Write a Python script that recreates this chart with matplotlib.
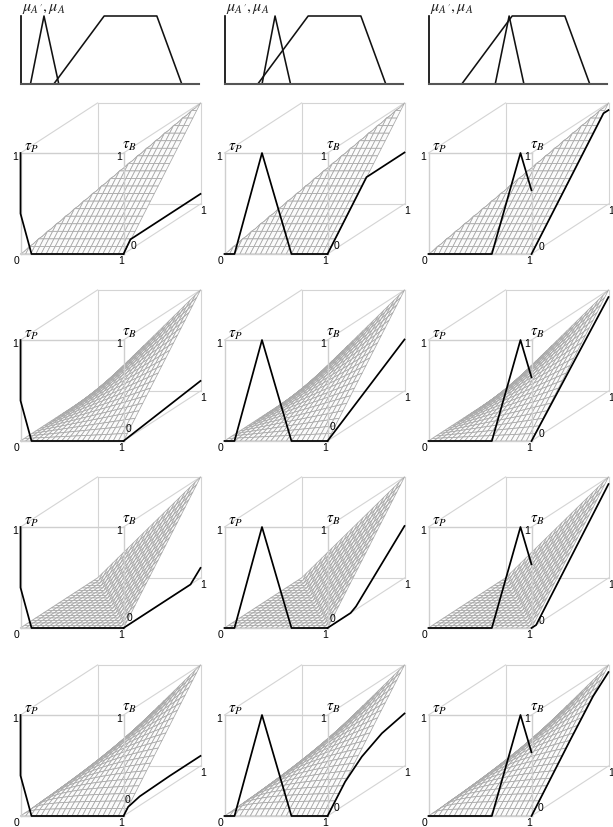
import numpy as np
import matplotlib
matplotlib.use("Agg")
import matplotlib.pyplot as plt
from matplotlib.collections import PolyCollection

plt.rcParams['font.family'] = ['Liberation Sans', 'DejaVu Sans']
plt.rcParams['mathtext.fontset'] = 'stix'

W, H = 613, 827

# Membership functions, top row (fraction of axis width)
trapezoid_x = [0.187, 0.47, 0.766, 0.906]
trapezoid_y = [0, 1, 1, 0]
triangles_x = [
    [0.056, 0.132, 0.215],
    [0.211, 0.284, 0.371],
    [0.375, 0.453, 0.536],
]
triangles_y = [0, 1, 0]

# Black curve on the front face (tau_P, value), one per column
front_x = [
    [0.0, 0.0, 0.107, 1.0],
    [0.0, 0.097, 0.364, 0.65, 1.0],
    [0.0, 0.615, 0.893, 1.0],
]
front_z = [
    [1.0, 0.40, 0.0, 0.0],
    [0.0, 0.0, 1.0, 0.0, 0.0],
    [0.0, 0.0, 1.0, 0.63],
]

# Black curve on the right face (tau_B, value), [row][col]
side_y = [
    [[0, 0.09, 1], [0, 0.506, 1], [0, 0.935, 1]],
    [[0, 1], [0, 1], [0, 1]],
    [[0, 0.87, 1], [0, 0.30, 0.37, 1], [0, 0.06, 1]],
    [[0, 0.06, 0.21, 0.6, 1], [0, 0.229, 0.446, 0.706, 1], [0, 0.5, 0.8, 1]],
]
side_z = [
    [[0, 0.10, 0.10], [0, 0.51, 0.51], [0, 0.93, 0.93]],
    [[0, 0.10], [0, 0.51], [0, 0.93]],
    [[0, 0, 0.10], [0, 0, 0.03, 0.515], [0, 0, 0.93]],
    [[0, 0.06, 0.09, 0.10, 0.10], [0, 0.226, 0.367, 0.469, 0.52], [0, 0.5, 0.79, 0.93]],
]

# The meshes are the t-norms themselves: min, product, bounded, Hamacher
def hamacher(a, b):
    s = a + b - a * b
    return np.divide(a * b, s, out=np.zeros_like(s), where=s > 0)

tnorms = [
    np.minimum,
    lambda a, b: a * b,
    lambda a, b: np.maximum(0, a + b - 1),
    hamacher,
]

n_cells = 20

# Pixel layout
col_x = [20.5, 224.5, 428.5]
row_y = [254, 441, 628, 816]
top_base, top_height, top_width = 84, 68, 178
box_w, box_h = 103, 101
depth_x, depth_y = 77 / 103, 50 / 101

# the inner "0" sits in a different spot from panel to panel
zero_offset = [
    [(10, 8), (9.5, 8), (9.7, 7)],
    [(5, 12), (4.5, 14), (10, 7)],
    [(6, 10), (4.5, 9), (9.7, 7.3)],
    [(4, 16), (9.5, 8), (9, 8)],
]


def project(x, y, z):
    return x + depth_x * np.asarray(y), z + depth_y * np.asarray(y)


fig = plt.figure(figsize=(W / 100, H / 100), dpi=100)

# top row
for c in range(3):
    ax = fig.add_axes([col_x[c] / W, 1 - top_base / H, top_width / W, top_height / H])
    ax.set_xlim(0, 1)
    ax.set_ylim(0, 1)
    ax.patch.set_visible(False)
    ax.set_xticks([])
    ax.set_yticks([])
    for s in ['top', 'right']:
        ax.spines[s].set_visible(False)
    ax.spines['left'].set_linewidth(1.2)
    ax.spines['bottom'].set_linewidth(1.5)
    ax.spines['bottom'].set_color('#555555')
    ax.plot(trapezoid_x, trapezoid_y, color='#111111', lw=1.15, clip_on=False)
    ax.plot(triangles_x[c], triangles_y, color='#111111', lw=1.15, clip_on=False)
    ax.text(1.5 / top_width, 0.97, r"$\mu_{A'},\mu_{A}$", fontsize=11.5, ha='left', va='bottom',
            color='#222222')


def label(ax, s, xyz, off, **kw):
    ax.annotate(s, xy=project(*xyz), xytext=off, textcoords='offset pixels',
                ha='center', va='center', annotation_clip=False, **kw)


# cube panels
for r in range(4):
    for c in range(3):
        ax = fig.add_axes([col_x[c] / W, 1 - row_y[r] / H,
                           1.8 * box_w / W, 1.55 * box_h / H])
        ax.set_xlim(0, 1.8)
        ax.set_ylim(0, 1.55)
        ax.axis('off')

        back = [((0, 1, 1), (1, 1, 1)), ((0, 1, 0), (0, 1, 1)), ((1, 1, 0), (1, 1, 1)),
                ((0, 1, 0), (1, 1, 0)), ((0, 0, 0), (0, 1, 0)), ((1, 0, 0), (1, 1, 0)),
                ((0, 0, 1), (0, 1, 1)), ((1, 0, 1), (1, 1, 1))]
        front = [((0, 0, 0), (0, 0, 1)), ((0, 0, 1), (1, 0, 1)), ((1, 0, 0), (1, 0, 1)),
                 ((0, 0, 0), (1, 0, 0))]
        for a, b in back:
            px, py = project(np.array([a[0], b[0]]), np.array([a[1], b[1]]), np.array([a[2], b[2]]))
            ax.plot(px, py, color='#d4d4d4', lw=0.8, clip_on=False, zorder=1)

        # mesh, far cells first
        g = np.linspace(0, 1, n_cells + 1)
        X, Y = np.meshgrid(g, g)
        Z = tnorms[r](X, Y)
        SX, SY = project(X, Y, Z)
        polys = []
        for j in range(n_cells - 1, -1, -1):
            for i in range(n_cells):
                polys.append([(SX[j, i], SY[j, i]), (SX[j, i + 1], SY[j, i + 1]),
                              (SX[j + 1, i + 1], SY[j + 1, i + 1]), (SX[j + 1, i], SY[j + 1, i])])
        ax.add_collection(PolyCollection(polys, facecolors='#fbfbfb', edgecolors='#a8a8a8',
                                         linewidths=0.55, zorder=2, clip_on=False))

        for a, b in front:
            px, py = project(np.array([a[0], b[0]]), np.array([a[1], b[1]]), np.array([a[2], b[2]]))
            ax.plot(px, py, color='#cfcfcf', lw=1.0, clip_on=False, zorder=3)

        # black curves
        fx = np.array(front_x[c], dtype=float)
        px, py = project(fx, np.zeros_like(fx), np.array(front_z[c]))
        ax.plot(px, py, color='black', lw=1.25, clip_on=False, zorder=4)
        sy = np.array(side_y[r][c], dtype=float)
        px, py = project(np.ones_like(sy), sy, np.array(side_z[r][c]))
        ax.plot(px, py, color='black', lw=1.25, clip_on=False, zorder=4)

        fs = 7.5
        label(ax, '1', (0, 0, 1), (-5, -4), fontsize=fs)
        label(ax, '0', (0, 0, 0), (-3.5, -7), fontsize=fs)
        label(ax, '1', (1, 0, 0), (-2.5, -7), fontsize=fs)
        label(ax, '1', (1, 0, 1), (-4, -4), fontsize=fs)
        label(ax, '0', (1, 0, 0), zero_offset[r][c], fontsize=fs, zorder=5)
        label(ax, '1', (1, 1, 0), (3, -7), fontsize=fs)
        label(ax, r'$\tau_P$', (0, 0, 1), (11, 5), fontsize=11)
        label(ax, r'$\tau_B$', (1, 0, 1), (6, 7), fontsize=11)

fig.savefig('out.png', dpi=100)
